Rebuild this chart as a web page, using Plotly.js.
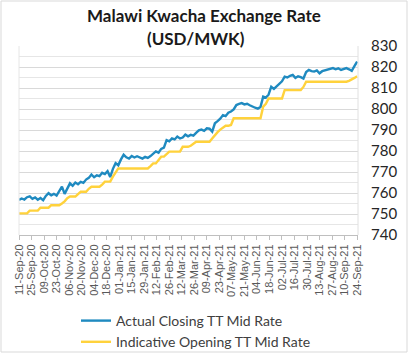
<!DOCTYPE html>
<html>
<head>
<meta charset="utf-8">
<script src="https://cdn.plot.ly/plotly-3.0.1.min.js"></script>
<style>
  html, body { margin: 0; padding: 0; background: #ffffff; }
  #chart { width: 416px; height: 359px; }
</style>
</head>
<body>
<div id="chart"></div>
<script>
// ---- data ----
const startDate = '2020-09-11';
const stepDays = 3;

const actualClosing = [
  756.7, 757.4, 756.9, 758.0, 758.4, 757.2, 757.9, 756.8, 757.6, 756.6,
  758.6, 759.9, 758.9, 759.6, 758.8, 761.2, 763.0, 759.6, 762.0, 764.6,
  763.4, 765.0, 764.2, 765.3, 764.8, 766.4, 767.2, 768.8, 767.5, 768.4,
  768.0, 769.6, 769.0, 770.4, 767.6, 771.5, 774.2, 773.2, 776.0, 778.2,
  777.0, 776.4, 777.6, 776.9, 777.5, 776.8, 776.4, 777.2, 776.7, 777.6,
  778.8, 779.8, 779.2, 781.0, 781.6, 785.2, 784.6, 786.0, 785.5, 786.9,
  786.0, 786.4, 787.8, 787.0, 787.7, 787.3, 788.6, 789.8, 790.2, 789.6,
  790.8, 790.6, 789.2, 793.2, 794.2, 795.4, 797.1, 796.6, 798.2, 798.8,
  799.8, 801.9, 802.4, 802.8, 802.2, 802.5, 801.8, 801.0, 800.6, 800.2,
  801.0, 805.9, 805.4, 806.8, 810.6, 809.6, 810.8, 812.0, 813.2, 815.4,
  815.0, 815.8, 816.2, 814.8, 815.6, 815.2, 814.5, 817.6, 818.6, 818.0,
  817.8, 818.4, 817.0, 818.0, 818.4, 818.8, 819.3, 819.5, 818.9, 819.4,
  818.6, 819.2, 819.5, 818.9, 818.2, 820.4, 822.6
];

const indicativeOpening = [
  750.3, 750.3, 750.3, 750.3, 751.6, 751.6, 751.6, 751.6, 753.0, 753.0,
  753.0, 753.0, 754.2, 754.2, 754.2, 754.2, 755.0, 756.0, 757.5, 758.3,
  758.3, 758.3, 759.5, 760.6, 760.6, 760.6, 762.0, 763.0, 763.0, 763.0,
  763.0, 764.0, 765.4, 765.4, 765.4, 767.8, 769.5, 771.7, 771.7, 771.7,
  771.7, 771.7, 771.7, 771.7, 771.7, 771.7, 771.7, 771.7, 771.7, 772.8,
  774.1, 774.1, 775.5, 777.3, 777.3, 778.5, 779.7, 779.7, 779.7, 779.7,
  779.7, 782.0, 782.0, 782.0, 782.5, 783.5, 784.4, 784.4, 784.4, 784.4,
  784.4, 784.4, 786.0, 787.6, 789.0, 790.2, 791.0, 792.0, 792.0, 792.4,
  795.6, 795.6, 795.6, 795.6, 795.6, 795.6, 795.6, 795.6, 795.6, 795.6,
  795.6, 801.1, 802.5, 805.0, 805.0, 805.0, 805.0, 805.0, 805.0, 809.0,
  809.0, 809.0, 809.0, 809.0, 809.0, 809.0, 810.5, 813.0, 813.0, 813.0,
  813.0, 813.0, 813.0, 813.0, 813.0, 813.0, 813.0, 813.0, 813.0, 813.0,
  813.0, 813.0, 813.0, 813.4, 814.0, 814.8, 815.6
];

const tickDates = [
  '2020-09-11','2020-09-25','2020-10-09','2020-10-23','2020-11-06','2020-11-20',
  '2020-12-04','2020-12-18','2021-01-01','2021-01-15','2021-01-29','2021-02-12',
  '2021-02-26','2021-03-12','2021-03-26','2021-04-09','2021-04-23','2021-05-07',
  '2021-05-21','2021-06-04','2021-06-18','2021-07-02','2021-07-16','2021-07-30',
  '2021-08-13','2021-08-27','2021-09-10','2021-09-24'
];
const tickLabels = [
  '11-Sep-20','25-Sep-20','09-Oct-20','23-Oct-20','06-Nov-20','20-Nov-20',
  '04-Dec-20','18-Dec-20','01-Jan-21','15-Jan-21','29-Jan-21','12-Feb-21',
  '26-Feb-21','12-Mar-21','26-Mar-21','09-Apr-21','23-Apr-21','07-May-21',
  '21-May-21','04-Jun-21','18-Jun-21','02-Jul-21','16-Jul-21','30-Jul-21',
  '13-Aug-21','27-Aug-21','10-Sep-21','24-Sep-21'
];
const yTicks = [740, 750, 760, 770, 780, 790, 800, 810, 820, 830];

const seriesNames = ['Actual Closing TT Mid Rate', 'Indicative Opening TT Mid Rate'];
const titleLines = ['Malawi Kwacha Exchange Rate', '(USD/MWK)'];

// ---- build date list ----
function buildDates(start, step, n) {
  const out = [];
  const base = new Date(start + 'T00:00:00Z');
  for (let i = 0; i < n; i++) {
    const d = new Date(base.getTime() + i * step * 86400000);
    out.push(d.toISOString().slice(0, 10));
  }
  return out;
}
const dates = buildDates(startDate, stepDays, actualClosing.length);

const traces = [
  {
    x: dates, y: actualClosing, name: seriesNames[0], type: 'scatter', mode: 'lines',
    line: { color: '#1f8ac0', width: 2.4 }
  },
  {
    x: dates, y: indicativeOpening, name: seriesNames[1], type: 'scatter', mode: 'lines',
    line: { color: '#ffd23c', width: 2.4 }
  }
];

// plot area pixel geometry
const W = 416, H = 359;
const L = 19, R = 58, T = 46, B = 124;
const PW = W - L - R, PH = H - T - B;
function px(xp) { return (xp - L) / PW; }
function py(yp) { return (H - B - yp) / PH; }

const titleFont = { family: 'Lato, sans-serif', size: 17, color: '#1a1a1a', weight: 'bold' };

const layout = {
  width: W, height: H,
  margin: { l: L, r: R, t: T, b: B, autoexpand: false },
  paper_bgcolor: '#ffffff', plot_bgcolor: '#ffffff',
  showlegend: true,
  annotations: [
    { text: titleLines[0], xref: 'paper', yref: 'paper', x: px(204), y: py(16),
      xanchor: 'center', yanchor: 'middle', showarrow: false, font: titleFont },
    { text: titleLines[1], xref: 'paper', yref: 'paper', x: px(196), y: py(38),
      xanchor: 'center', yanchor: 'middle', showarrow: false, font: titleFont }
  ],
  xaxis: {
    type: 'date',
    range: ['2020-09-11', '2021-09-25'],
    tickmode: 'array', tickvals: tickDates, ticktext: tickLabels,
    tickangle: -90,
    tickfont: { family: 'Liberation Sans, Arial, sans-serif', size: 11, color: '#595959' },
    ticks: 'outside', ticklen: 4, tickcolor: '#bfbfbf',
    showline: true, linecolor: '#bfbfbf', linewidth: 1,
    showgrid: false, zeroline: false, fixedrange: true, automargin: false
  },
  yaxis: {
    side: 'right',
    range: [740, 830],
    tickmode: 'array', tickvals: yTicks,
    tickfont: { family: 'Lato, sans-serif', size: 15, color: '#262626' },
    ticks: '', ticklabelstandoff: 12,
    showgrid: true, gridcolor: '#d9d9d9', gridwidth: 1,
    minor: { dtick: 5, showgrid: true, gridcolor: '#e6e6e6', gridwidth: 1 },
    showline: false, zeroline: false, fixedrange: true, automargin: false
  },
  legend: {
    orientation: 'v',
    x: px(76), xanchor: 'left',
    y: py(305), yanchor: 'top',
    font: { family: 'Lato, sans-serif', size: 14, color: '#404040' },
    bgcolor: 'rgba(0,0,0,0)', tracegroupgap: 0
  },
  shapes: [
    { type: 'rect', xref: 'paper', yref: 'paper',
      x0: px(1), x1: px(407), y0: py(352), y1: py(1),
      line: { color: '#d9d9d9', width: 1 }, fillcolor: 'rgba(0,0,0,0)', layer: 'below' },
    { type: 'line', xref: 'paper', yref: 'paper',
      x0: 1, x1: 1, y0: 0, y1: 1,
      line: { color: '#e0e0e0', width: 1 } },
    { type: 'line', xref: 'paper', yref: 'paper',
      x0: 0, x1: 0, y0: 0, y1: 1,
      line: { color: '#e6e6e6', width: 1 } }
  ]
};

Plotly.newPlot('chart', traces, layout, { displayModeBar: false, staticPlot: true });
</script>
</body>
</html>
